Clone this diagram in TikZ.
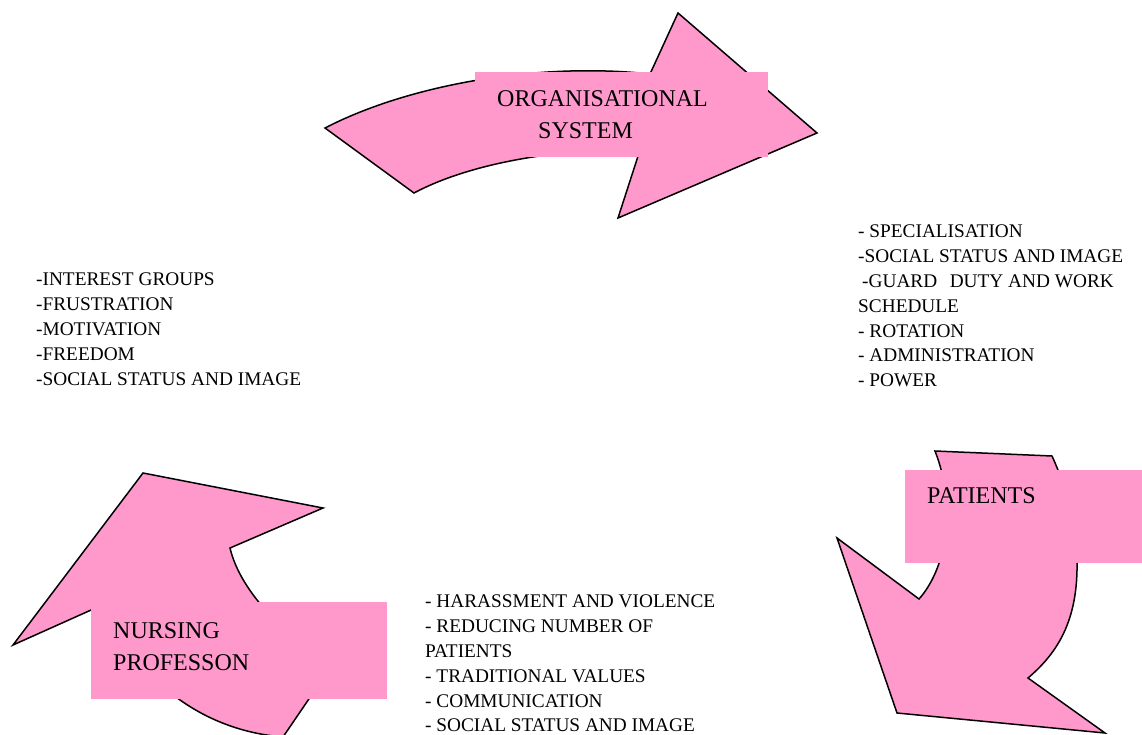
\documentclass[tikz,border=0pt]{standalone}
\usepackage{fontspec}
\setmainfont{Liberation Serif}
\definecolor{arrowpink}{HTML}{FF99CC}
\begin{document}
\begin{tikzpicture}[x=1pt, y=-1pt, line join=miter,
  arrowshape/.style={fill=arrowpink, draw=black, line width=1.5pt},
  labelbox/.style={fill=arrowpink},
  labeltext/.style={font=\fontsize{24}{32}\selectfont, inner sep=0pt, align=left, anchor=north west},
  itemlist/.style={font=\fontsize{19.3}{24.8}\selectfont, inner sep=0pt, align=left, anchor=north west}]
\useasboundingbox (0,0) rectangle (1142,735);
\draw[arrowshape] (325,128) .. controls (410,84) and (540,62) .. (650,74) -- (678,13) -- (817,133) -- (618,218) -- (640,150) .. controls (560,148) and (470,163) .. (414,193) -- cycle;
\fill[labelbox] (475,72) rectangle (768,157);
\node[labeltext, anchor=north west] (org) at (497,90) {ORGANISATIONAL\\\hspace*{41pt}SYSTEM};
\draw[arrowshape] (935,451) -- (1052,456) .. controls (1072,500) and (1078,540) .. (1077,570) .. controls (1076,625) and (1055,655) .. (1028,678) -- (1105,733) -- (897,713) -- (837,538) -- (919,599) .. controls (945,570) and (958,510) .. (935,451) -- cycle;
\fill[labelbox] (905,470) rectangle (1142,563);
\node[labeltext] (pat) at (927,487) {PATIENTS};
\draw[arrowshape] (143,473) -- (323,508) -- (230,548) .. controls (240,590) and (280,630) .. (330,668) -- (283,737) .. controls (200,730) and (140,680) .. (100,606) -- (13,645) -- cycle;
\fill[labelbox] (91,602) rectangle (387,699);
\node[labeltext] (nurse) at (113,622) {NURSING\\PROFESSON};
\node[itemlist] (nurseitems) at (36,273) {-INTEREST GROUPS\\-FRUSTRATION\\-MOTIVATION\\-FREEDOM\\-SOCIAL STATUS AND IMAGE};
\node[itemlist] (orgitems) at (858,225) {- SPECIALISATION\\-SOCIAL STATUS AND IMAGE\\\hspace*{4pt}-GUARD\hspace{0.65em}DUTY AND WORK\\SCHEDULE\\- ROTATION\\- ADMINISTRATION\\- POWER};
\node[itemlist] (patitems) at (425,595) {- HARASSMENT AND VIOLENCE\\- REDUCING NUMBER OF\\PATIENTS\\- TRADITIONAL VALUES\\- COMMUNICATION\\- SOCIAL STATUS AND IMAGE};
\end{tikzpicture}
\end{document}
